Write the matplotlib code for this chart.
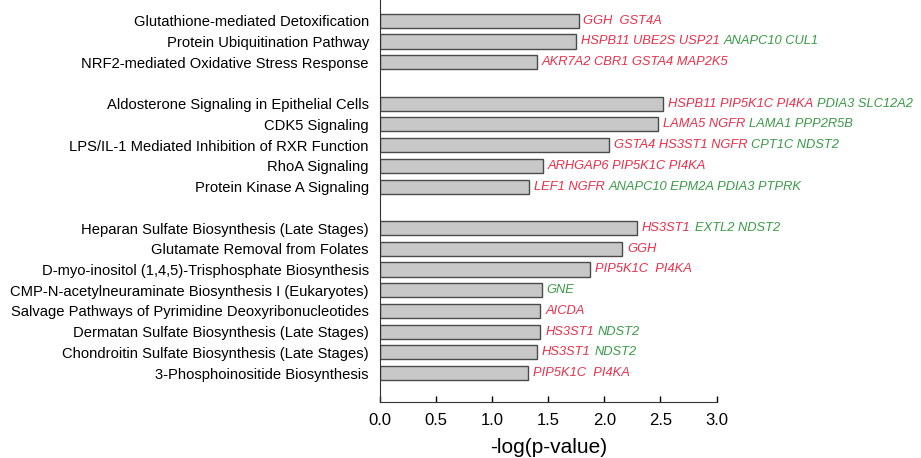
import matplotlib
matplotlib.use('Agg')
import matplotlib.pyplot as plt
import numpy as np

plt.rcParams['font.family'] = ['Liberation Sans', 'DejaVu Sans']

# Pathways, top to bottom (None = empty slot between groups)
pathways = ['Glutathione-mediated Detoxification',
            'Protein Ubiquitination Pathway',
            'NRF2-mediated Oxidative Stress Response',
            None,
            'Aldosterone Signaling in Epithelial Cells',
            'CDK5 Signaling',
            'LPS/IL-1 Mediated Inhibition of RXR Function',
            'RhoA Signaling',
            'Protein Kinase A Signaling',
            None,
            'Heparan Sulfate Biosynthesis (Late Stages)',
            'Glutamate Removal from Folates',
            'D-myo-inositol (1,4,5)-Trisphosphate Biosynthesis',
            'CMP-N-acetylneuraminate Biosynthesis I (Eukaryotes)',
            'Salvage Pathways of Pyrimidine Deoxyribonucleotides',
            'Dermatan Sulfate Biosynthesis (Late Stages)',
            'Chondroitin Sulfate Biosynthesis (Late Stages)',
            '3-Phosphoinositide Biosynthesis']

logp = [1.77, 1.75, 1.40, None,
        2.52, 2.48, 2.04, 1.45, 1.33, None,
        2.29, 2.16, 1.87, 1.44, 1.43, 1.43, 1.40, 1.32]

# genes up (red) and down (green)
genes_up = ['GGH  GST4A', 'HSPB11 UBE2S USP21', 'AKR7A2 CBR1 GSTA4 MAP2K5', None,
            'HSPB11 PIP5K1C PI4KA', 'LAMA5 NGFR', 'GSTA4 HS3ST1 NGFR',
            'ARHGAP6 PIP5K1C PI4KA', 'LEF1 NGFR', None,
            'HS3ST1', 'GGH', 'PIP5K1C  PI4KA', '', 'AICDA',
            'HS3ST1', 'HS3ST1', 'PIP5K1C  PI4KA']
genes_down = ['', 'ANAPC10 CUL1', '', None,
              'PDIA3 SLC12A2', 'LAMA1 PPP2R5B', 'CPT1C NDST2',
              '', 'ANAPC10 EPM2A PDIA3 PTPRK', None,
              'EXTL2 NDST2', '', '', 'GNE', '',
              'NDST2', 'NDST2', '']

red = '#e8304a'
green = '#3a9a48'

fig = plt.figure(figsize=(9.21, 4.58), dpi=100)
ax = fig.add_axes([0.4126, 0.122, 0.778 - 0.4126, 0.878])

pos = [i for i, v in enumerate(logp) if v is not None]
vals = [logp[i] for i in pos]
ax.barh(pos, vals, height=0.68, color='#c8c8c8', edgecolor='#4a4a4a', linewidth=1.0)

ax.set_yticks(pos)
ax.set_yticklabels([pathways[i] for i in pos], fontsize=10.6)
ax.tick_params(axis='y', length=0, pad=8)
ax.set_ylim(18.4, -1.0)

ax.set_xlim(0, 3.0)
ax.set_xticks(np.arange(0, 3.01, 0.5))
ax.set_xticklabels(['%.1f' % t for t in np.arange(0, 3.01, 0.5)], fontsize=12)
ax.tick_params(axis='x', direction='in', length=4, width=1, pad=8)
ax.set_xlabel('-log(p-value)', fontsize=15, labelpad=7)

for s in ['top', 'right']:
    ax.spines[s].set_visible(False)
for s in ['left', 'bottom']:
    ax.spines[s].set_color('#333333')

gsize = 9.3
for i in pos:
    t = ax.annotate(genes_up[i] if genes_up[i] else '', xy=(logp[i], i), xytext=(3.5, 0),
                    textcoords='offset points', va='center', ha='left',
                    fontsize=gsize, style='italic', color=red, annotation_clip=False)
    if genes_down[i]:
        if genes_up[i]:
            ax.annotate(genes_down[i], xy=(1, 0.5), xycoords=t, xytext=(3, 0),
                        textcoords='offset points', va='center', ha='left',
                        fontsize=gsize, style='italic', color=green, annotation_clip=False)
        else:
            ax.annotate(genes_down[i], xy=(logp[i], i), xytext=(3.5, 0),
                        textcoords='offset points', va='center', ha='left',
                        fontsize=gsize, style='italic', color=green, annotation_clip=False)

fig.savefig('out.png', dpi=100)
